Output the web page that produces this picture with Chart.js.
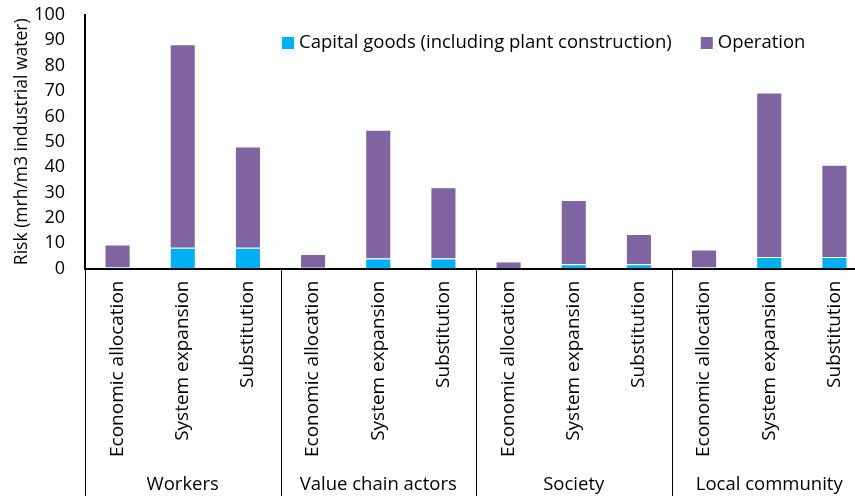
<!DOCTYPE html>
<html>
<head>
<meta charset="utf-8">
<script src="https://cdn.jsdelivr.net/npm/chart.js@4/dist/chart.umd.min.js"></script>
<style>
  html, body { margin: 0; padding: 0; background: #fff; overflow: hidden; }
  #wrap { width: 855px; height: 496px; overflow: hidden; }
</style>
</head>
<body>
<div id="wrap"><canvas id="riskChart" width="870" height="496"></canvas></div>
<script>
// categories (3 allocation methods per stakeholder group)
const methods = ['Economic allocation', 'System expansion', 'Substitution'];
const groups = ['Workers', 'Value chain actors', 'Society', 'Local community'];
const categories = [
    'Economic allocation', 'System expansion', 'Substitution',
    'Economic allocation', 'System expansion', 'Substitution',
    'Economic allocation', 'System expansion', 'Substitution',
    'Economic allocation', 'System expansion', 'Substitution'
];
// values (mrh per m3 industrial water)
const capitalGoods = [0.4, 8.2, 8.2, 0.3, 4.0, 4.0, 0.2, 1.7, 1.7, 0.4, 4.5, 4.5];
const operation = [9.1, 80.3, 39.9, 5.4, 50.7, 28.1, 2.6, 25.3, 11.9, 7.1, 64.9, 36.4];
const yMin = 0, yMax = 100, yStep = 10;

const FONT = 'Open Sans';

// group separators + group names under the rotated labels
const groupPlugin = {
    id: 'groupPlugin',
    afterDraw(chart) {
        const ctx = chart.ctx;
        const x = chart.scales.x;
        const area = chart.chartArea;
        const per = methods.length;
        const step = x.getPixelForValue(1) - x.getPixelForValue(0);
        ctx.save();
        ctx.strokeStyle = '#000';
        ctx.lineWidth = 1;
        for (let g = 0; g <= groups.length; g++) {
            let px;
            if (g === 0) px = x.getPixelForValue(0) - step / 2;
            else if (g === groups.length) px = x.getPixelForValue(categories.length - 1) + step / 2;
            else px = (x.getPixelForValue(g * per - 1) + x.getPixelForValue(g * per)) / 2;
            px = Math.round(px) + 0.5;
            ctx.beginPath();
            ctx.moveTo(px, area.bottom);
            ctx.lineTo(px, chart.height);
            ctx.stroke();
        }
        ctx.fillStyle = '#000';
        ctx.font = '18.5px "' + FONT + '"';
        ctx.textAlign = 'center';
        ctx.textBaseline = 'middle';
        groups.forEach(function(name, g) {
            ctx.fillText(name, x.getPixelForValue(g * per + 1), 485);
        });
        ctx.restore();
    }
};

// legend drawn inside the plot, upper right
const legendPlugin = {
    id: 'insideLegend',
    afterDraw(chart) {
        const ctx = chart.ctx;
        ctx.save();
        ctx.font = '18.5px "' + FONT + '"';
        ctx.textBaseline = 'middle';
        let lx = 282;
        const ly = 43;
        chart.data.datasets.forEach(function(ds) {
            ctx.fillStyle = ds.backgroundColor;
            ctx.fillRect(lx, ly - 6, 12, 12);
            ctx.fillStyle = '#000';
            ctx.fillText(ds.label, lx + 17, ly);
            lx += 17 + ctx.measureText(ds.label).width + 29;
        });
        ctx.restore();
    }
};

const ctxRisk = document.getElementById('riskChart').getContext('2d');
const riskChart = new Chart(ctxRisk, {
    type: 'bar',
    data: {
        labels: categories,
        datasets: [{
            label: 'Capital goods (including plant construction)',
            data: capitalGoods,
            backgroundColor: '#00B0F0',
            borderColor: 'rgba(255,255,255,0.45)',
            borderWidth: 1,
            barPercentage: 0.4,
            categoryPercentage: 1
        }, {
            label: 'Operation',
            data: operation,
            backgroundColor: '#8064A2',
            borderColor: 'rgba(255,255,255,0.45)',
            borderWidth: 1,
            barPercentage: 0.4,
            categoryPercentage: 1
        }]
    },
    options: {
        responsive: false,
        animation: false,
        layout: { padding: { top: 15, right: 3, bottom: 27, left: 0 } },
        scales: {
            x: {
                stacked: true,
                grid: { display: false, drawTicks: false },
                border: { display: true, color: '#000', width: 2 },
                ticks: {
                    color: '#000',
                    font: { family: FONT, size: 19 },
                    minRotation: 90,
                    maxRotation: 90,
                    autoSkip: false,
                    padding: 12
                }
            },
            y: {
                stacked: true,
                min: yMin,
                max: yMax,
                afterFit: function(scale) {
                    scale.width = 85;
                    scale.paddingTop = 0;
                    scale.paddingBottom = 0;
                },
                grid: { display: false, drawTicks: false },
                border: { display: true, color: '#000', width: 2 },
                ticks: {
                    stepSize: yStep,
                    autoSkip: false,
                    color: '#000',
                    font: { family: FONT, size: 18 },
                    padding: 20
                },
                title: {
                    display: true,
                    text: 'Risk (mrh/m3 industrial water)',
                    color: '#000',
                    font: { family: FONT, size: 17.5 },
                    padding: { top: 12, bottom: 0 }
                }
            }
        },
        plugins: {
            legend: { display: false },
            tooltip: { enabled: false }
        }
    },
    plugins: [groupPlugin, legendPlugin]
});
</script>
</body>
</html>
